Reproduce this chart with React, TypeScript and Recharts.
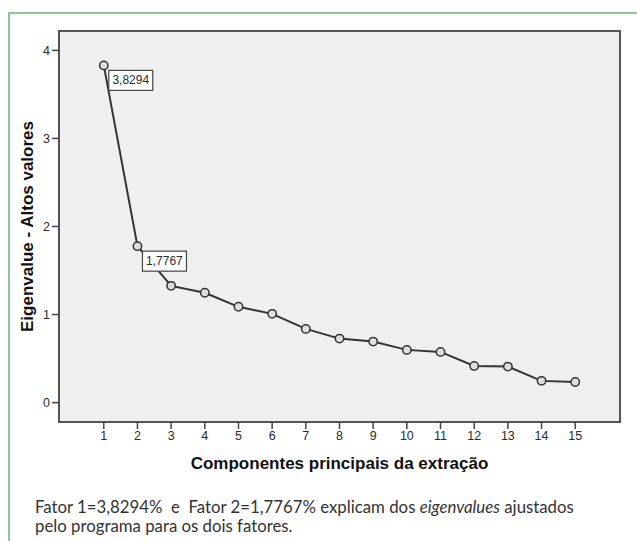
import React from "react";
import {
  LineChart, Line, XAxis, YAxis, ReferenceArea, LabelList,
} from "recharts";

const components = [1, 2, 3, 4, 5, 6, 7, 8, 9, 10, 11, 12, 13, 14, 15];
const eigenvalues = [
  3.8294, 1.7767, 1.326, 1.247, 1.088, 1.008, 0.837, 0.727,
  0.693, 0.599, 0.576, 0.417, 0.409, 0.247, 0.235,
];
const pointLabels = ["3,8294", "1,7767"];
const yTicks = [0, 1, 2, 3, 4];

const X_DOMAIN: [number, number] = [-0.33, 16.33];
const Y_DOMAIN: [number, number] = [-0.22, 4.22];

const data = components.map((c, i) => ({
  comp: c,
  value: eigenvalues[i],
  label: pointLabels[i] ?? "",
}));

const FONT = "'Liberation Sans', Arial, sans-serif";
const INK = "#2b2b2b";

function BoxLabel(props: any) {
  const { x, y, value } = props;
  if (!value) return null;
  const w = 44;
  const h = 20;
  const bx = x + 5;
  const by = y + 5;
  return (
    <g>
      <rect x={bx} y={by} width={w} height={h} fill="#fff" stroke="#444" strokeWidth={1.2} />
      <text
        x={bx + w / 2}
        y={by + h / 2 + 4}
        textAnchor="middle"
        fontSize={12}
        fontFamily={FONT}
        fill={INK}
      >
        {value}
      </text>
    </g>
  );
}

const captionStyle: React.CSSProperties = {
  position: "absolute",
  left: 35,
  fontFamily: "Lato, 'Open Sans', sans-serif",
  fontSize: 16.8,
  lineHeight: "17px",
  color: "#333",
  whiteSpace: "pre",
};

export default function App() {
  return (
    <div style={{ position: "absolute", left: 0, top: 0, width: 637, height: 541, background: "#fff" }}>
      {/* green frame, top and left edges only */}
      <div
        style={{
          position: "absolute",
          left: 8,
          top: 12,
          width: 629,
          height: 529,
          borderTop: "2px solid #8fc49f",
          borderLeft: "2px solid #8fc49f",
        }}
      />
      <div style={{ position: "absolute", left: 0, top: 0 }}>
        <LineChart
          width={637}
          height={541}
          data={data}
          margin={{ top: 31, right: 17, left: 0, bottom: 0 }}
        >
          <XAxis
            dataKey="comp"
            type="number"
            domain={X_DOMAIN}
            ticks={components}
            allowDataOverflow
            height={119}
            axisLine={false}
            tickSize={7}
            tickLine={{ stroke: "#444", strokeWidth: 1.5 }}
            tick={{ fill: INK, fontSize: 12.5, fontFamily: FONT }}
            label={{
              value: "Componentes principais da extração",
              position: "insideTop",
              offset: 35,
              fill: "#111",
              fontSize: 17,
              fontWeight: 700,
              fontFamily: FONT,
            }}
          />
          <YAxis
            type="number"
            domain={Y_DOMAIN}
            ticks={yTicks}
            allowDataOverflow
            width={59}
            axisLine={false}
            tickSize={7}
            tickLine={{ stroke: "#444", strokeWidth: 1.5 }}
            tick={{ fill: INK, fontSize: 12.5, fontFamily: FONT }}
            label={{
              value: "Eigenvalue - Altos valores",
              angle: -90,
              position: "insideLeft",
              offset: 27,
              style: { textAnchor: "middle" },
              fill: "#111",
              fontSize: 17,
              fontWeight: 700,
              fontFamily: FONT,
            }}
          />
          <ReferenceArea
            x1={X_DOMAIN[0]}
            x2={X_DOMAIN[1]}
            y1={Y_DOMAIN[0]}
            y2={Y_DOMAIN[1]}
            fill="#efefef"
            fillOpacity={1}
            stroke="#555"
            strokeWidth={2}
          />
          <Line
            dataKey="value"
            stroke="#333"
            strokeWidth={2}
            dot={{ r: 4.2, stroke: "#333", strokeWidth: 1.5, fill: "#dedede" }}
            isAnimationActive={false}
          >
            <LabelList dataKey="label" content={BoxLabel} />
          </Line>
        </LineChart>
      </div>
      <div style={{ ...captionStyle, top: 498 }}>
        {"Fator 1=3,8294%  e  Fator 2=1,7767% explicam dos "}
        <i>eigenvalues</i>
        {" ajustados"}
      </div>
      <div style={{ ...captionStyle, top: 517 }}>pelo programa para os dois fatores.</div>
    </div>
  );
}
